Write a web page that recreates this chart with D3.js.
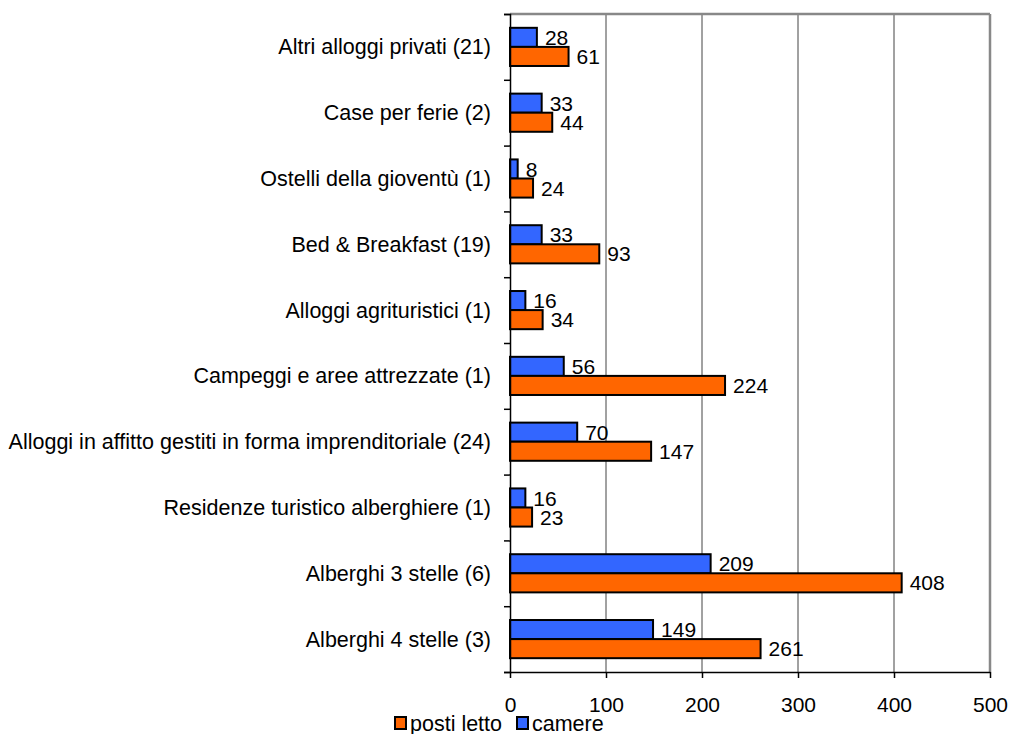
<!DOCTYPE html>
<html>
<head>
<meta charset="utf-8">
<script src="https://cdn.jsdelivr.net/npm/d3@7"></script>
<style>
  body { margin: 0; background: #fff; }
  text { font-family: "Liberation Sans", Arial, sans-serif; fill: #000; }
</style>
</head>
<body>
<svg width="1010" height="734"></svg>
<script>
// Data (top to bottom)
var categories = [
  "Altri alloggi privati (21)",
  "Case per ferie (2)",
  "Ostelli della gioventù (1)",
  "Bed & Breakfast (19)",
  "Alloggi agrituristici (1)",
  "Campeggi e aree attrezzate (1)",
  "Alloggi in affitto gestiti in forma imprenditoriale (24)",
  "Residenze turistico alberghiere (1)",
  "Alberghi 3 stelle (6)",
  "Alberghi 4 stelle (3)"
];
var camere = [28, 33, 8, 33, 16, 56, 70, 16, 209, 149];
var postiLetto = [61, 44, 24, 93, 34, 224, 147, 23, 408, 261];
var ticks = [0, 100, 200, 300, 400, 500];

var plotLeft = 510, plotRight = 990, plotTop = 14, plotBottom = 672;
var svg = d3.select('svg');

var x = d3.scaleLinear().domain([0, 500]).range([plotLeft, plotRight]);
var y = d3.scaleBand().domain(categories).range([plotTop, plotBottom]).paddingInner(0.42).paddingOuter(0.21);

// grid lines
svg.append('g').selectAll('line')
  .data(ticks.slice(1))
  .enter().append('line')
  .attr('x1', function (d) { return x(d); })
  .attr('x2', function (d) { return x(d); })
  .attr('y1', plotTop).attr('y2', plotBottom)
  .style('stroke', function (d) { return d === 500 ? '#888' : '#444'; })
  .style('stroke-width', function (d) { return d === 500 ? 2.5 : 1; });

svg.append('line')
  .attr('x1', plotLeft).attr('x2', plotRight)
  .attr('y1', plotTop).attr('y2', plotTop)
  .style('stroke', '#888').style('stroke-width', 2.5);

var bh = y.bandwidth() / 2;

var g = svg.append('g');
g.selectAll('rect.cam')
  .data(camere)
  .enter().append('rect')
  .attr('class', 'cam')
  .attr('x', x(0))
  .attr('y', function (d, i) { return y(categories[i]); })
  .attr('width', function (d) { return x(d) - x(0); })
  .attr('height', bh)
  .style('fill', '#3366ff').style('stroke', '#000').style('stroke-width', 2);

g.selectAll('rect.pl')
  .data(postiLetto)
  .enter().append('rect')
  .attr('class', 'pl')
  .attr('x', x(0))
  .attr('y', function (d, i) { return y(categories[i]) + bh; })
  .attr('width', function (d) { return x(d) - x(0); })
  .attr('height', bh)
  .style('fill', '#ff6600').style('stroke', '#000').style('stroke-width', 2);

// value labels
g.selectAll('text.cam')
  .data(camere)
  .enter().append('text')
  .attr('class', 'cam')
  .attr('x', function (d) { return x(d) + 8; })
  .attr('y', function (d, i) { return y(categories[i]) + bh - 2; })
  .style('font-size', '21px')
  .text(function (d) { return d; });

g.selectAll('text.pl')
  .data(postiLetto)
  .enter().append('text')
  .attr('class', 'pl')
  .attr('x', function (d) { return x(d) + 8; })
  .attr('y', function (d, i) { return y(categories[i]) + 2 * bh - 2; })
  .style('font-size', '21px')
  .text(function (d) { return d; });

// axes
var yAxis = d3.axisLeft(d3.scaleLinear().domain([0, 10]).range([plotTop, plotBottom]))
  .ticks(10).tickSize(6).tickFormat('');
svg.append('g').attr('transform', 'translate(' + plotLeft + ',0)').call(yAxis)
  .call(function (s) { s.selectAll('line, path').style('stroke', '#000').style('stroke-width', 1.5); });

svg.selectAll('text.cat')
  .data(categories)
  .enter().append('text')
  .attr('class', 'cat')
  .attr('x', plotLeft - 19)
  .attr('y', function (d) { return y(d) + y.bandwidth() / 2 + 7.5; })
  .attr('text-anchor', 'end')
  .style('font-size', '21.5px')
  .text(function (d) { return d; });

var xAxis = d3.axisBottom(x).tickValues(ticks).tickSize(6).tickSizeOuter(0).tickPadding(0);
var xa = svg.append('g').attr('transform', 'translate(0,' + plotBottom + ')').call(xAxis);
xa.selectAll('line, path').style('stroke', '#000').style('stroke-width', 1.5);
xa.selectAll('text').attr('dy', null).attr('y', 40)
  .style('font-size', '21px').style('font-family', '"Liberation Sans", Arial, sans-serif');

// legend
var legend = [
  { name: 'posti letto', color: '#ff6600', x: 395 },
  { name: 'camere', color: '#3366ff', x: 517 }
];
var lg = svg.append('g').selectAll('g').data(legend).enter().append('g')
  .attr('transform', function (d) { return 'translate(' + d.x + ',717)'; });
lg.append('rect').attr('width', 11).attr('height', 12)
  .style('fill', function (d) { return d.color; }).style('stroke', '#000').style('stroke-width', 2);
lg.append('text').attr('x', 15).attr('y', 14).style('font-size', '21.5px')
  .text(function (d) { return d.name; });
</script>
</body>
</html>
